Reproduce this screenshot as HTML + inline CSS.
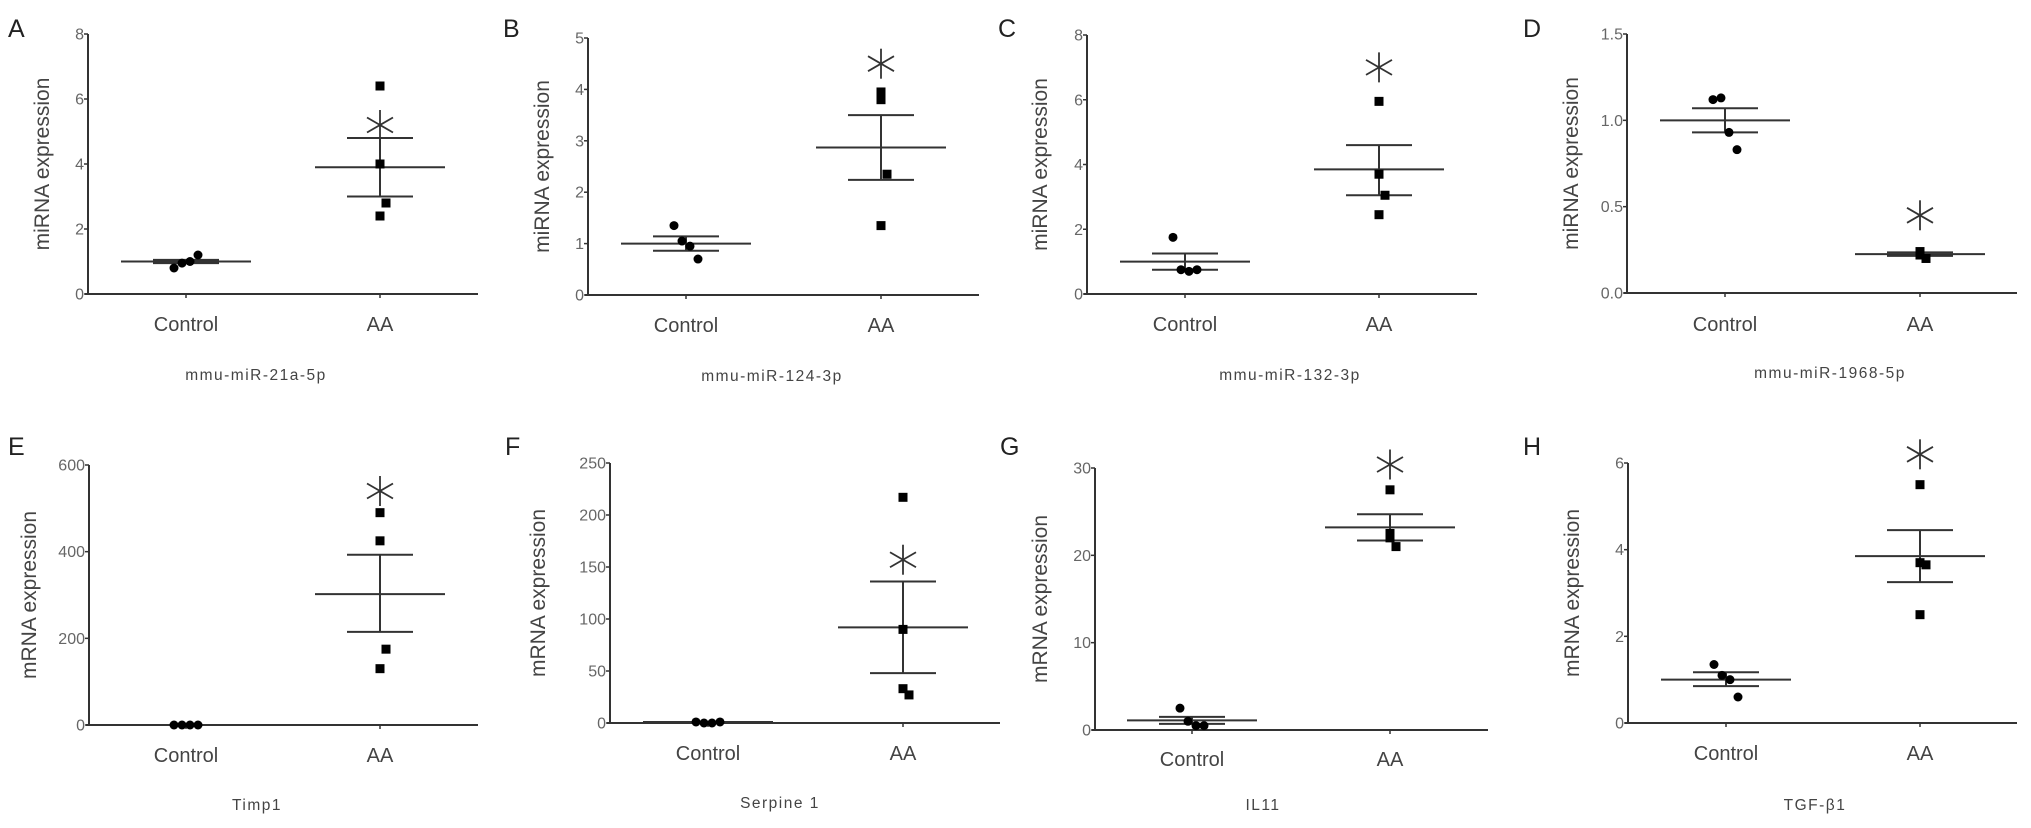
<!DOCTYPE html>
<html><head><meta charset="utf-8"><style>
html,body{margin:0;padding:0;background:#fff;}
svg{display:block;font-family:"Liberation Sans",sans-serif;}
</style></head><body>
<svg id="fig" width="2031" height="828" viewBox="0 0 2031 828" xmlns="http://www.w3.org/2000/svg"></svg>
<script>
// Data arrays
const panelLetters = ["A","B","C","D","E","F","G","H"];
const panelTitles = ["mmu-miR-21a-5p","mmu-miR-124-3p","mmu-miR-132-3p","mmu-miR-1968-5p","Timp1","Serpine 1","IL11","TGF-\u03b21"];
const yTitles = ["miRNA expression","miRNA expression","miRNA expression","miRNA expression","mRNA expression","mRNA expression","mRNA expression","mRNA expression"];
const categories = ["Control","AA"];
const yMax = [8,5,8,1.5,600,250,30,6];
const tickLabels = [["0","2","4","6","8"],["0","1","2","3","4","5"],["0","2","4","6","8"],["0.0","0.5","1.0","1.5"],["0","200","400","600"],["0","50","100","150","200","250"],["0","10","20","30"],["0","2","4","6"]];
const ctrlValues = [[0.8,0.95,1.0,1.2],[1.35,1.05,0.95,0.7],[1.75,0.75,0.7,0.75],[1.12,1.13,0.93,0.83],[0,0,0,0],[1,0,0,1],[2.5,1,0.5,0.5],[1.35,1.1,1.0,0.6]];
const aaValues = [[6.4,4.0,2.8,2.4],[3.8,3.95,2.35,1.35],[5.95,3.7,3.05,2.45],[0.24,0.22,0.2,0.23],[490,425,175,130],[217,90,27,33],[27.5,22.5,21,22],[5.5,3.7,3.65,2.5]];
const ctrlMean = [1.0,1.0,1.0,1.0,0,1,1.1,1.0];
const ctrlUpper = [1.05,1.14,1.25,1.07,0,1,1.5,1.17];
const ctrlLower = [0.95,0.86,0.75,0.93,0,1,0.7,0.85];
const aaMean = [3.9,2.87,3.85,0.225,302,92,23.2,3.85];
const aaUpper = [4.8,3.5,4.6,0.235,393,136,24.7,4.45];
const aaLower = [3.0,2.24,3.05,0.215,215,48,21.7,3.25];
const starValue = [5.2,4.5,7.0,0.45,540,157,30.4,6.2];

const L = [
 {ax:88,top:34,y0:294,xe:478,c:186,a:380,lx:8,ly:37,tx:256,ty:380,cy:331,yt:42},
 {ax:588,top:38,y0:295,xe:979,c:686,a:881,lx:503,ly:37,tx:772,ty:381,cy:332,yt:542},
 {ax:1087,top:35,y0:294,xe:1477,c:1185,a:1379,lx:998,ly:37,tx:1290,ty:380,cy:331,yt:1040},
 {ax:1627,top:34,y0:293,xe:2017,c:1725,a:1920,lx:1523,ly:37,tx:1830,ty:378,cy:331,yt:1571},
 {ax:89,top:465,y0:725,xe:478,c:186,a:380,lx:8,ly:455,tx:257,ty:810,cy:762,yt:29},
 {ax:610,top:463,y0:723,xe:1000,c:708,a:903,lx:505,ly:455,tx:780,ty:808,cy:760,yt:538},
 {ax:1095,top:468,y0:730,xe:1488,c:1192,a:1390,lx:1000,ly:455,tx:1263,ty:810,cy:766,yt:1040},
 {ax:1628,top:463,y0:723,xe:2017,c:1726,a:1920,lx:1523,ly:455,tx:1815,ty:810,cy:760,yt:1572}
];
const jit = [-24,-8,8,24];
const NS="http://www.w3.org/2000/svg";
const svg=document.getElementById('fig');
function mk(tag,attrs,parent){const e=document.createElementNS(NS,tag);for(const k in attrs)e.setAttribute(k,attrs[k]);(parent||svg).appendChild(e);return e;}

for(let p=0;p<8;p++){
  const g=L[p];
  const grp=mk('g',{});
  
  
  const ys=v=>g.y0-(v/yMax[p])*(g.y0-g.top);
  const xs=i=>i===0?g.c:g.a;
  let t=mk('text',{x:g.lx,y:g.ly,'font-size':25,fill:'#222'},grp);t.textContent=panelLetters[p];
  
  let ya=mk('line',{x1:g.ax,y1:g.top,x2:g.ax,y2:g.y0,stroke:'#333','stroke-width':2},grp);
  
  let xa=mk('line',{x1:g.ax-3,y1:g.y0,x2:g.xe,y2:g.y0,stroke:'#333','stroke-width':2},grp);
  
  const tl=tickLabels[p];
  for(let i=0;i<tl.length;i++){
    const v=parseFloat(tl[i]);const y=ys(v);
    mk('line',{x1:g.ax-4,y1:y,x2:g.ax,y2:y,stroke:'#333','stroke-width':1.5},grp);
    let tt=mk('text',{x:g.ax-4,y:y+5.5,'font-size':16,fill:'#666','text-anchor':'end'},grp);tt.textContent=tl[i];
    
  }
  for(let c=0;c<2;c++){
    mk('line',{x1:xs(c),y1:g.y0,x2:xs(c),y2:g.y0+4,stroke:'#333','stroke-width':1.5},grp);
    let ct=mk('text',{x:xs(c),y:g.cy,'font-size':20,fill:'#444','text-anchor':'middle'},grp);ct.textContent=categories[c];
    
  }
  let yt=mk('text',{x:0,y:0,'font-size':21,fill:'#444','text-anchor':'middle',transform:`translate(${g.yt+7},${(g.top+g.y0)/2}) rotate(-90)`},grp);yt.textContent=yTitles[p];
  
  let pt=mk('text',{x:g.tx,y:g.ty,'font-size':15.5,fill:'#444','text-anchor':'middle','letter-spacing':'1.5'},grp);pt.textContent=panelTitles[p];
  
  const means=[ctrlMean[p],aaMean[p]],ups=[ctrlUpper[p],aaUpper[p]],los=[ctrlLower[p],aaLower[p]];
  for(let c=0;c<2;c++){
    const x=xs(c);
    let m=mk('line',{x1:x-65,y1:ys(means[c]),x2:x+65,y2:ys(means[c]),stroke:'#333','stroke-width':2},grp);
    
    mk('line',{x1:x,y1:ys(ups[c]),x2:x,y2:ys(los[c]),stroke:'#333','stroke-width':2},grp);
    mk('line',{x1:x-33,y1:ys(ups[c]),x2:x+33,y2:ys(ups[c]),stroke:'#333','stroke-width':2},grp);
    mk('line',{x1:x-33,y1:ys(los[c]),x2:x+33,y2:ys(los[c]),stroke:'#333','stroke-width':2},grp);
  }
  ctrlValues[p].forEach((v,i)=>{
    let d=mk('circle',{cx:g.c+jit[i]*0.5,cy:ys(v),r:4.5,fill:'#000'},grp);
    
  });
  aaValues[p].forEach((v,i)=>{
    const dx=(i===2?6:0);
    let d=mk('rect',{x:g.a+dx-4.5,y:ys(v)-4.5,width:9,height:9,fill:'#000'},grp);
    
  });
  const sx=g.a, sy=ys(starValue[p]), r=15;
  const st=mk('g',{stroke:'#333','stroke-width':1.8},grp);
  
  for(let k=0;k<6;k++){const a=-Math.PI/2+k*Math.PI/3;mk('line',{x1:sx,y1:sy,x2:sx+r*Math.cos(a),y2:sy+r*Math.sin(a)},st);}
}
</script>
</body></html>
